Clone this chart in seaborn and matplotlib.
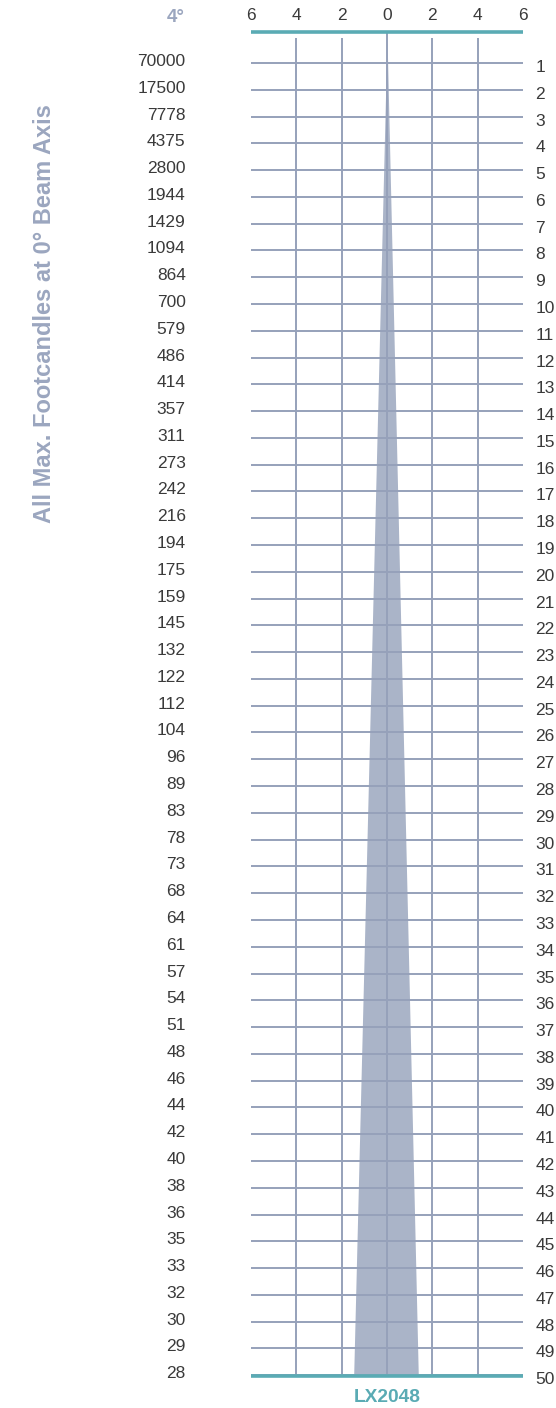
import matplotlib
matplotlib.use("Agg")
import matplotlib.pyplot as plt
import matplotlib.transforms as mtransforms
import seaborn as sns

# Data
distances = list(range(1, 51))
footcandles = [70000, 17500, 7778, 4375, 2800, 1944, 1429, 1094, 864, 700,
               579, 486, 414, 357, 311, 273, 242, 216, 194, 175,
               159, 145, 132, 122, 112, 104, 96, 89, 83, 78,
               73, 68, 64, 61, 57, 54, 51, 48, 46, 44,
               42, 40, 38, 36, 35, 33, 32, 30, 29, 28]
spread_ticks = [-6, -4, -2, 0, 2, 4, 6]
spread_labels = ["6", "4", "2", "0", "2", "4", "6"]
beam_distance = [0, 50]
beam_left = [0, -1.47]
beam_right = [0, 1.38]
beam_angle = "4°"
model = "LX2048"

grid_color = "#96a1ba"
fill_color = "#aab4c8"
teal = "#5aabb4"
text_color = "#3a3a3a"
label_color = "#9ba6bf"

sns.set_theme(style="white")
plt.rcParams['font.family'] = ['Liberation Sans', 'DejaVu Sans']

fig = plt.figure(figsize=(5.56, 14.08), dpi=100)
ax = fig.add_axes([251 / 556, 1 - 1377.9 / 1408, 272 / 556, (1377.9 - 29.5) / 1408])

# beam cone
ax.fill_betweenx(beam_distance, beam_left, beam_right, color=fill_color, lw=0, zorder=1)

# grid
ax.hlines(distances, -6, 6, color=grid_color, lw=1.4, zorder=2)
ax.vlines([-4, -2, 2, 4], 0.07, 50, color=grid_color, lw=1.4, zorder=2)
ax.vlines([0], -0.2, 50, color=grid_color, lw=1.4, zorder=2)

# teal boundary lines
ax.hlines([-0.17], -6, 6, color=teal, lw=2.6, zorder=3)
ax.hlines([50.03], -6, 6, color=teal, lw=2.6, zorder=3)

ax.set_xlim(-6, 6)
ax.set_ylim(50.1, -0.25)
for s in ax.spines.values():
    s.set_visible(False)

# top spread ticks
ax.xaxis.tick_top()
ax.set_xticks(spread_ticks)
ax.set_xticklabels(spread_labels, fontsize=12.5, color=text_color)
ax.tick_params(axis='x', length=0, pad=5)

# left footcandle labels
ax.set_yticks(distances)
ax.set_yticklabels([str(v) for v in footcandles], fontsize=12.5, color=text_color)
ax.tick_params(axis='y', length=0, pad=47)
up = mtransforms.ScaledTranslation(0, 3 / 100, fig.dpi_scale_trans)
for lab in ax.get_yticklabels():
    lab.set_transform(lab.get_transform() + up)

# right distance labels
ax2 = ax.twinx()
ax2.set_ylim(ax.get_ylim())
ax2.set_yticks(distances)
ax2.set_yticklabels([str(d) for d in distances], fontsize=12.5, color=text_color)
ax2.tick_params(axis='y', length=0, pad=9)
for s in ax2.spines.values():
    s.set_visible(False)
down = mtransforms.ScaledTranslation(0, -3 / 100, fig.dpi_scale_trans)
for lab in ax2.get_yticklabels():
    lab.set_transform(lab.get_transform() + down)

fig.text(176 / 556, 1 - 17 / 1408, beam_angle, ha='center', va='center',
         fontsize=13.5, fontweight='bold', color=label_color)
fig.text(45 / 556, 1 - 314 / 1408, "All Max. Footcandles at 0° Beam Axis",
         rotation=90, ha='center', va='center', fontsize=17,
         fontweight='bold', color=label_color)
fig.text(387 / 556, 1 - 1398 / 1408, model, ha='center', va='center',
         fontsize=13.8, fontweight='bold', color=teal)

fig.savefig("out.png", dpi=100)
